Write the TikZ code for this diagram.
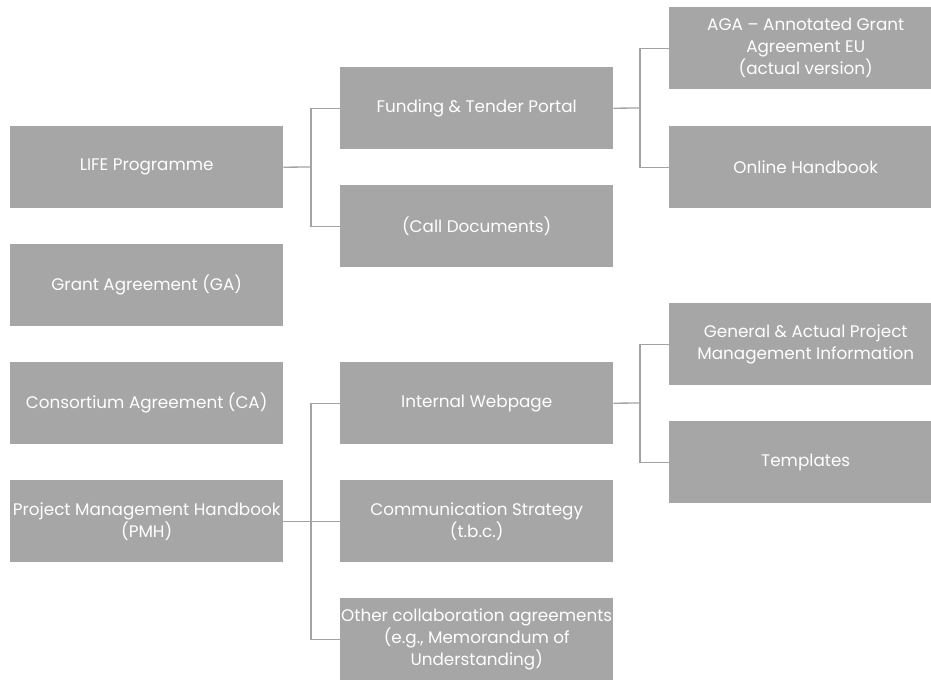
\documentclass[tikz,border=0pt]{standalone}
\usepackage{fontspec}
\setmainfont{Poppins}
\definecolor{boxgray}{HTML}{A6A6A6}
\definecolor{linegray}{HTML}{A3A3A3}
\begin{document}
\begin{tikzpicture}[x=1pt,y=-1pt,
  box/.style={draw=none, fill=boxgray, text=white, minimum width=273pt, minimum height=82pt,
    inner sep=0pt, align=center, font=\fontsize{16.8}{22}\selectfont, anchor=north west},
  conn/.style={draw=linegray, line width=1.3pt}]
\useasboundingbox (0,0) rectangle (931,680);
% column 1
\node[box] (life) at (10,126) {LIFE Programme};
\node[box] (ga) at (10,244) {Grant Agreement (GA)};
\node[box] (ca) at (10,362) {Consortium Agreement (CA)};
\node[box] (pmh) at (10,480) {Project Management Handbook\\(PMH)};
% column 2
\node[box] (ftp) at (340,67) {Funding \& Tender Portal};
\node[box] (call) at (340,185) {(Call Documents)};
\node[box] (web) at (340,362) {Internal Webpage};
\node[box] (comm) at (340,480) {Communication Strategy\\(t.b.c.)};
\node[box] (other) at (340,598) {Other collaboration agreements\\(e.g., Memorandum of\\Understanding)};
% column 3
\node[box] (aga) at (669,7) {AGA – Annotated Grant\\Agreement EU\\(actual version)};
\node[box] (online) at (669,126) {Online Handbook};
\node[box] (gen) at (669,303) {General \& Actual Project\\Management Information};
\node[box] (tmpl) at (669,421) {Templates};
% connectors
\coordinate (j1) at (311,167);
\coordinate (j2) at (640,108);
\coordinate (j3) at (640,403);
\coordinate (j4) at (311,521);
\draw[conn] (life.east) -- (j1);
\draw[conn] (ftp.west) -| (j1) |- (call.west);
\draw[conn] (ftp.east) -- (j2);
\draw[conn] (aga.west) -| (j2) |- (online.west);
\draw[conn] (web.east) -- (j3);
\draw[conn] (gen.west) -| (j3) |- (tmpl.west);
\draw[conn] (pmh.east) -- (comm.west);
\draw[conn] (web.west) -| (j4) |- (other.west);
\end{tikzpicture}
\end{document}
